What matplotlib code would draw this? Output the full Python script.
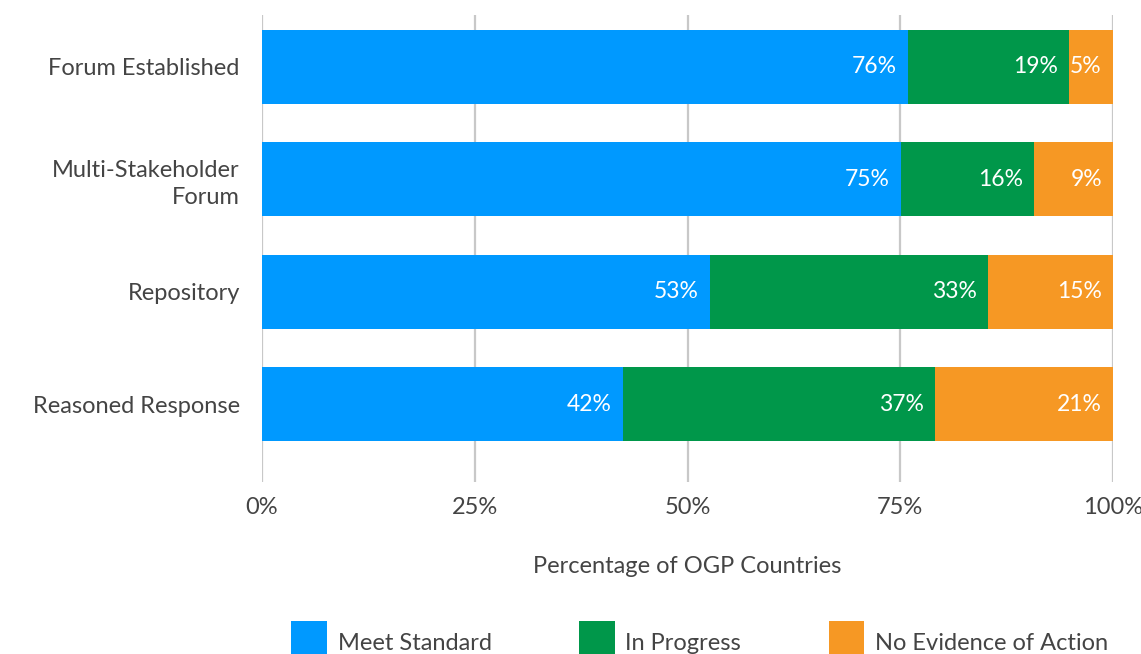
import matplotlib
matplotlib.use("Agg")
import matplotlib.pyplot as plt
from matplotlib.patches import Patch

plt.rcParams['font.family'] = ['Lato', 'DejaVu Sans']

categories = ["Forum Established", "Multi-Stakeholder\nForum", "Repository", "Reasoned Response"]
series_names = ["Meet Standard", "In Progress", "No Evidence of Action"]
meet_standard = [75.9, 75.1, 52.6, 42.4]
in_progress = [18.9, 15.6, 32.7, 36.7]
no_evidence = [5.2, 9.3, 14.7, 20.9]
value_labels = [["76%", "75%", "53%", "42%"],
                ["19%", "16%", "33%", "37%"],
                ["5%", "9%", "15%", "21%"]]
x_ticks = [0, 25, 50, 75, 100]
x_tick_labels = ["0%", "25%", "50%", "75%", "100%"]
x_label = "Percentage of OGP Countries"

colors = ["#0099FF", "#00974A", "#F69824"]
text_color = "#444444"
fs = 17

W, H = 1141, 654
fig = plt.figure(figsize=(W / 100, H / 100), dpi=100)
ax = fig.add_axes([262 / W, 1 - 482 / H, (1113 - 262) / W, (482 - 15) / H])

ys = list(range(len(categories)))
series = [meet_standard, in_progress, no_evidence]
left = [0.0] * len(categories)
for vals, col, name, labs in zip(series, colors, series_names, value_labels):
    ax.barh(ys, vals, left=left, height=0.66, color=col, label=name, zorder=3)
    for y, l, v, lab in zip(ys, left, vals, labs):
        ax.annotate(lab, xy=(l + v, y), xytext=(-8, 0), textcoords="offset points",
                    ha="right", va="center", color="white", fontsize=16.5, zorder=4)
    left = [a + b for a, b in zip(left, vals)]

ax.set_xlim(0, 100)
ax.set_ylim(3.69, -0.46)
ax.set_yticks(ys)
ax.set_yticklabels(categories, fontsize=fs, color=text_color, linespacing=1.32)
ax.set_xticks(x_ticks)
ax.set_xticklabels(x_tick_labels, fontsize=fs, color=text_color)
ax.tick_params(axis="both", length=0)
ax.tick_params(axis="y", pad=16)
ax.tick_params(axis="x", pad=11)
ax.grid(axis="x", color="#C8C8C8", linewidth=1.6, zorder=0)
ax.grid(axis="y", visible=False)
for s in ax.spines.values():
    s.set_visible(False)
ax.set_xlabel(x_label, fontsize=fs, color=text_color, labelpad=27)

handles = [Patch(facecolor=c, edgecolor="none") for c in colors]
fig.legend(handles, series_names, loc="upper left", bbox_to_anchor=(291 / W, 1 - 621 / H),
           ncol=3, frameon=False, fontsize=fs, handlelength=1.52, handleheight=2.4,
           handletextpad=0.45, columnspacing=3.7, borderpad=0, borderaxespad=0,
           labelcolor=text_color)

fig.savefig("out.png", dpi=100)
